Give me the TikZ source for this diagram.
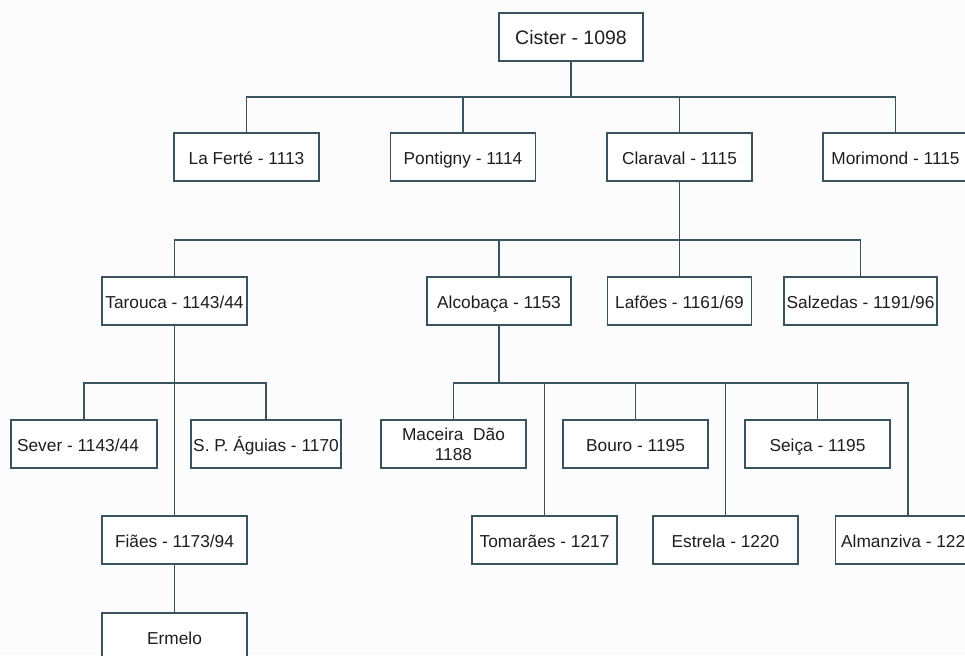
\documentclass[tikz,border=0pt]{standalone}
\usepackage{fontspec}
\setmainfont{Liberation Sans}
\definecolor{lc}{RGB}{58,84,94}
\definecolor{tc}{RGB}{30,30,30}
\definecolor{bg}{RGB}{252,252,252}
\begin{document}
\begin{tikzpicture}[x=1pt,y=-1pt,
  box/.style={draw=lc, line width=1.5pt, fill=white, minimum width=145pt, minimum height=48pt,
    inner sep=0pt, text=tc, font=\fontsize{17.3}{20}\selectfont, align=center,
    text height=15pt, text depth=0pt},
  link/.style={draw=lc, line width=1.5pt}]
\useasboundingbox (0,0) rectangle (965,655);
\clip (0,0) rectangle (965,655);
\fill[bg] (0,0) rectangle (965,655);
% bus levels
\coordinate (b1) at (0,97);
\coordinate (b2) at (0,240);
\coordinate (b3) at (0,383);
% level 0
\node[box, minimum width=144pt, font=\fontsize{19.5}{22}\selectfont, text height=16pt] (cister) at (571,37) {Cister - 1098};
% level 1
\node[box] (laferte)  at (246.5,157) {La Ferté - 1113};
\node[box] (pontigny) at (463,157) {Pontigny - 1114};
\node[box] (claraval) at (679.5,157) {Claraval - 1115};
\node[box] (morimond) at (895.5,157) {Morimond - 1115};
% level 2
\node[box] (tarouca)  at (174.5,301) {Tarouca - 1143/44};
\node[box, minimum width=144pt] (alcobaca) at (499,301) {Alcobaça - 1153};
\node[box, minimum width=144pt] (lafoes)   at (679.5,301) {Lafões - 1161/69};
\node[box, minimum width=153pt] (salzedas) at (860.5,301) {Salzedas - 1191/96};
% level 3
\node[box, minimum width=146pt] (sever)    at (84,444) {Sever - 1143/44\hspace{12pt}};
\node[box, minimum width=150pt] (spaguias) at (266,444) {S. P. Águias - 1170};
\node[box, text height=, text depth=] (maceira)  at (453.5,444) {Maceira\ \ Dão\\1188};
\node[box] (bouro)    at (635.5,444) {Bouro - 1195};
\node[box] (seica)    at (817.5,444) {Seiça - 1195};
% level 4
\node[box] (fiaes)     at (174.5,540) {Fiães - 1173/94};
\node[box] (tomaraes)  at (544.5,540) {Tomarães - 1217};
\node[box] (estrela)   at (725.5,540) {Estrela - 1220};
\node[box] (almanziva) at (908,540) {Almanziva - 122\phantom{0}};
% level 5
\node[box] (ermelo) at (174.5,637) {Ermelo};
% connectors: Cister
\foreach \c in {laferte,pontigny,claraval,morimond}
  \draw[link] (cister.south) -- (cister.south |- b1) -| (\c.north);
% Claraval
\foreach \c in {tarouca,alcobaca,salzedas}
  \draw[link] (claraval.south) -- (claraval.south |- b2) -| (\c.north);
\draw[link] (claraval.south) -- (lafoes.north);
% Tarouca
\draw[link] (tarouca.south) -- (fiaes.north);
\foreach \c in {sever,spaguias}
  \draw[link] (tarouca.south |- b3) -| (\c.north);
\draw[link] (fiaes.south) -- (ermelo.north);
% Alcobaca
\foreach \c in {maceira,tomaraes,bouro,estrela,seica,almanziva}
  \draw[link] (alcobaca.south) -- (alcobaca.south |- b3) -| (\c.north);
\end{tikzpicture}
\end{document}
